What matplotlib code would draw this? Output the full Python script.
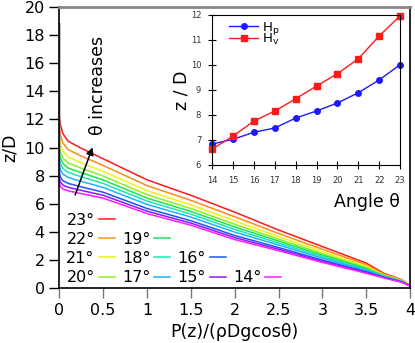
import matplotlib
matplotlib.use('Agg')
import matplotlib.pyplot as plt
from matplotlib.lines import Line2D
from matplotlib.ticker import FormatStrFormatter

# pressure profiles P(z)/(rho D g cos theta) vs z/D, one per angle
x_pts = [0, 0, 0.01, 0.04, 0.1, 0.25, 0.5, 1.0, 1.5, 2.0, 2.5, 3.0, 3.5, 3.7, 3.9, 4.0]
z23 = [18.8, 12.3, 11.7, 11.0, 10.45, 9.95, 9.2, 7.7, 6.6, 5.4, 4.13, 2.95, 1.78, 1.05, 0.6, 0.2]
z22 = [18.8, 11.5, 10.94, 10.33, 9.85, 9.4, 8.72, 7.29, 6.24, 5.07, 3.88, 2.76, 1.66, 0.99, 0.57, 0.19]
z21 = [18.8, 10.8, 10.28, 9.74, 9.32, 8.92, 8.3, 6.93, 5.92, 4.78, 3.66, 2.59, 1.55, 0.94, 0.54, 0.18]
z20 = [18.8, 10.23, 9.74, 9.26, 8.9, 8.53, 7.97, 6.64, 5.66, 4.54, 3.48, 2.45, 1.46, 0.9, 0.52, 0.18]
z19 = [18.8, 9.76, 9.3, 8.87, 8.54, 8.21, 7.69, 6.4, 5.45, 4.35, 3.34, 2.34, 1.39, 0.87, 0.5, 0.17]
z18 = [18.8, 9.34, 8.9, 8.51, 8.23, 7.92, 7.44, 6.19, 5.26, 4.17, 3.2, 2.24, 1.32, 0.84, 0.49, 0.17]
z17 = [18.8, 8.87, 8.45, 8.12, 7.87, 7.59, 7.16, 5.95, 5.05, 3.98, 3.06, 2.13, 1.25, 0.81, 0.47, 0.16]
z16 = [18.8, 8.3, 7.92, 7.64, 7.45, 7.2, 6.82, 5.66, 4.79, 3.74, 2.88, 1.99, 1.16, 0.77, 0.45, 0.16]
z15 = [18.8, 7.93, 7.56, 7.33, 7.17, 6.95, 6.6, 5.47, 4.62, 3.59, 2.76, 1.9, 1.1, 0.74, 0.43, 0.15]
z14 = [18.8, 7.6, 7.25, 7.05, 6.92, 6.72, 6.4, 5.3, 4.47, 3.45, 2.66, 1.82, 1.05, 0.72, 0.42, 0.15]

angles = [23, 22, 21, 20, 19, 18, 17, 16, 15, 14]
profiles = [z23, z22, z21, z20, z19, z18, z17, z16, z15, z14]
colors = ['#ff1a1a', '#ff8c1a', '#f0f01a', '#8cf01a', '#1ae64d',
          '#1ae6b3', '#1ab2ff', '#1a53ff', '#8c1aff', '#ff1aff']

# inset: heights vs angle
theta = [14, 15, 16, 17, 18, 19, 20, 21, 22, 23]
Hp = [6.84, 7.03, 7.31, 7.48, 7.88, 8.16, 8.48, 8.89, 9.4, 10.01]
Hv = [6.64, 7.16, 7.76, 8.16, 8.65, 9.16, 9.65, 10.25, 11.16, 11.96]

fig = plt.figure(figsize=(4.15, 3.43), dpi=100)
ax = fig.add_axes([0.1429, 0.1603, 0.8451, 0.8192])

lines = {}
for a, z, c in zip(angles, profiles, colors):
    ln, = ax.plot(x_pts, z, color=c, lw=1.1, label=f'{a}°')
    lines[a] = ln

ax.set_xlim(0, 4)
ax.set_ylim(0, 20)
ax.set_xticks([0, 0.5, 1, 1.5, 2, 2.5, 3, 3.5, 4])
ax.set_yticks(range(0, 21, 2))
ax.xaxis.set_major_formatter(FormatStrFormatter('%g'))
ax.tick_params(labelsize=11.5, direction='out', length=7, width=1)
ax.tick_params(axis='x', color='#777777')
ax.spines['top'].set_color('#888888')
ax.spines['top'].set_linewidth(2)
for s in ['left', 'bottom', 'right']:
    ax.spines[s].set_linewidth(1.2)
ax.set_xlabel('P(z)/(ρDgcosθ)', fontsize=12.5, labelpad=4)
ax.set_ylabel('z/D', fontsize=12.5, labelpad=4)

# arrow and note
ax.annotate('', xy=(0.39, 10.2), xytext=(0.17, 6.44),
            arrowprops=dict(arrowstyle='-|>', color='black', lw=1.1,
                            mutation_scale=11))
ax.text(0.445, 14.4, 'θ increases', rotation=90, fontsize=12.5,
        ha='center', va='center')

# legend laid out bottom-aligned in 4 columns
blank = Line2D([], [], linestyle='none')
order = [23, 22, 21, 20, None, 19, 18, 17, None, None, 16, 15, None, None, None, 14]
handles = [lines[a] if a else blank for a in order]
labels = [f'{a}°' if a else '' for a in order]
ax.legend(handles, labels, ncol=4, loc='lower left', bbox_to_anchor=(0.02, 0.01),
          frameon=False, fontsize=11.5, markerfirst=False, handlelength=1.0,
          handletextpad=0.25, columnspacing=0.45, labelspacing=0.26,
          borderpad=0, borderaxespad=0)

# inset
axi = fig.add_axes([0.5116, 0.5190, 0.4523, 0.4373])
axi.set_facecolor('white')
axi.plot(theta, Hp, color='#1a1aff', lw=1, marker='o', ms=4, label='H$_\\mathregular{p}$', clip_on=False)
axi.plot(theta, Hv, color='#ff1a1a', lw=1, marker='s', ms=4, label='H$_\\mathregular{v}$', clip_on=False)
axi.set_xlim(14, 23)
axi.set_ylim(6, 12)
axi.set_xticks(theta)
axi.set_yticks(range(6, 13))
axi.tick_params(labelsize=6, direction='inout', length=6, width=0.8, pad=5,
                labelcolor='#333333')
axi.set_ylabel('z / D', fontsize=12.5, labelpad=0)
axi.set_xlabel('Angle θ', fontsize=12.5, loc='right', labelpad=6)
axi.legend(loc='upper left', frameon=False, fontsize=9.5, handlelength=2.2,
           handletextpad=0.3, labelspacing=-0.4, borderaxespad=0.3,
           bbox_to_anchor=(0.04, 1.03))

fig.savefig('out.png', dpi=100)
